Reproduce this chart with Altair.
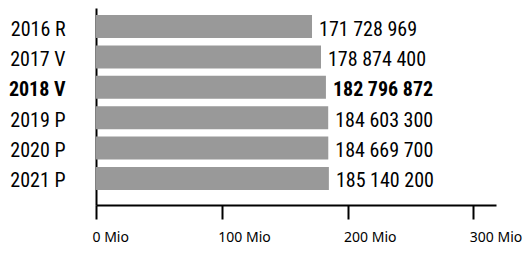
import altair as alt
import pandas as pd

years = ["2016 R", "2017 V", "2018 V", "2019 P", "2020 P", "2021 P"]
values = [171728969, 178874400, 182796872, 184603300, 184669700, 185140200]
highlight = "2018 V"
tick_values = [0, 100000000, 200000000, 300000000]

df = pd.DataFrame({"year": years, "value": values})
df["label"] = [f"{v:,}".replace(",", " ") for v in values]

cond_font = "Roboto Condensed"
axis_font = "Noto Sans"

y_enc = alt.Y(
    "year:N",
    sort=years,
    title=None,
    scale=alt.Scale(paddingInner=0.243, paddingOuter=0.362, align=0.318),
    axis=alt.Axis(
        ticks=False,
        tickSize=0,
        domainColor="black",
        domainWidth=2,
        labelFont=cond_font,
        labelFontSize=20,
        labelColor="black",
        labelPadding=31,
        labelOffset=3,
        labelFontWeight={"condition": {"test": f"datum.value === '{highlight}'", "value": "bold"}, "value": "normal"},
    ),
)

x_enc = alt.X(
    "value:Q",
    title=None,
    scale=alt.Scale(domain=[0, 318000000], nice=False),
    axis=alt.Axis(
        values=tick_values,
        labelExpr="(datum.value / 1000000) + ' Mio'",
        grid=False,
        domainColor="black",
        domainWidth=2,
        tickColor="black",
        tickWidth=2,
        tickSize=14,
        labelFont=axis_font,
        labelFontSize=14,
        labelColor="black",
        labelAlign="left",
        labelOffset=-4,
        labelPadding=11,
    ),
)

base = alt.Chart(df)

bars = base.mark_bar(color="#999999").encode(x=x_enc, y=y_enc)

text_common = dict(align="left", dx=7, font=cond_font, fontSize=20, color="black", baseline="middle", dy=3)

text_normal = base.transform_filter(alt.datum.year != highlight).mark_text(
    fontWeight="normal", **text_common
).encode(
    x=alt.X("value:Q"),
    y=alt.Y("year:N", sort=years),
    text="label:N",
)

text_bold = base.transform_filter(alt.datum.year == highlight).mark_text(
    fontWeight="bold", **text_common
).encode(
    x=alt.X("value:Q"),
    y=alt.Y("year:N", sort=years),
    text="label:N",
)

chart = (
    alt.layer(bars, text_normal, text_bold)
    .properties(
        width=400,
        height=197,
        autosize=alt.AutoSizeParams(type="none"),
        padding={"left": 88, "top": 0, "right": 27, "bottom": 42},
    )
    .configure_view(stroke=None)
)

chart.save("out.html", embed_options={"renderer": "svg", "actions": False})
